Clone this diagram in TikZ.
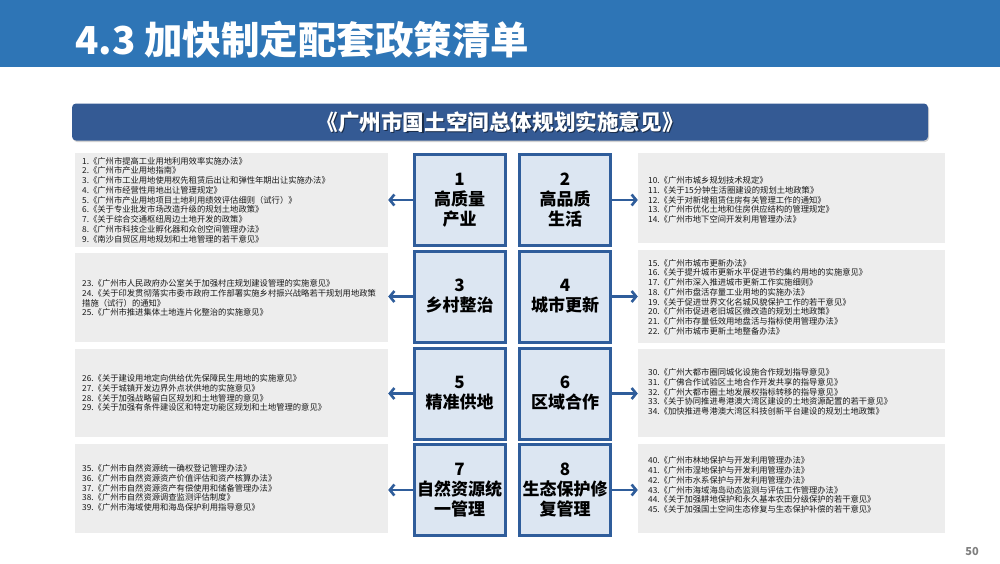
\documentclass[tikz,border=0pt]{standalone}
\usepackage{fontspec}
\setmainfont{Noto Sans CJK SC}
\usetikzlibrary{arrows.meta,shadows}
\definecolor{hdr}{RGB}{46,117,182}
\definecolor{subbar}{RGB}{52,90,148}
\definecolor{cborder}{RGB}{47,93,155}
\definecolor{cfill}{RGB}{220,230,242}
\definecolor{gfill}{RGB}{237,237,237}
\definecolor{gtext}{RGB}{25,25,25}
\definecolor{pgnum}{RGB}{127,127,127}
\begin{document}
\begin{tikzpicture}[x=1pt,y=-1pt,
 cbox/.style={draw=cborder, line width=3pt, fill=cfill, minimum width=91pt, minimum height=91pt, inner sep=0pt, align=center, font=\fontsize{17}{20}\selectfont\bfseries},
 gbox/.style={fill=gfill, inner sep=0pt},
 ltext/.style={anchor=west, align=left, inner sep=0pt, text=gtext, font=\fontsize{8.3}{9.75}\selectfont},
 arr/.style={draw=cborder, line width=2.6pt, -{Straight Barb[length=4.5pt,width=11pt]}},
]
\useasboundingbox (0,0) rectangle (1000,563);
\fill[white] (0,0) rectangle (1000,563);
% header
\fill[hdr] (0,0) rectangle (1000,67);
\node[anchor=west, text=white, font=\fontsize{38.5}{40}\selectfont\bfseries, inner sep=0pt] (title) at (75,40) {4.3 加快制定配套政策清单};
% subtitle bar
\node[fill=subbar, rounded corners=4pt, minimum width=856pt, minimum height=37pt, inner sep=0pt,
      drop shadow={opacity=0.35, shadow xshift=1pt, shadow yshift=-1.5pt}] (sub) at (500,122) {};
\node[text=black, opacity=0.5, font=\fontsize{21.6}{24}\selectfont\bfseries, inner sep=0pt] (subsh) at (501.2,123.2) {《广州市国土空间总体规划实施意见》};
\node[text=white, font=\fontsize{21.6}{24}\selectfont\bfseries, inner sep=0pt] (subt) at (500,122) {《广州市国土空间总体规划实施意见》};
% gray boxes
\node[gbox, minimum width=313pt, minimum height=94pt] (gl1) at (231.5,200) {};
\node[gbox, minimum width=313pt, minimum height=89pt] (gl2) at (231.5,297.5) {};
\node[gbox, minimum width=313pt, minimum height=88pt] (gl3) at (231.5,393) {};
\node[gbox, minimum width=313pt, minimum height=89pt] (gl4) at (231.5,488) {};
\node[gbox, minimum width=307pt, minimum height=90pt] (gr1) at (791.5,198) {};
\node[gbox, minimum width=307pt, minimum height=93pt] (gr2) at (791.5,296.5) {};
\node[gbox, minimum width=307pt, minimum height=88pt] (gr3) at (791.5,393) {};
\node[gbox, minimum width=307pt, minimum height=89pt] (gr4) at (791.5,488) {};
% texts
\node[ltext] (tl1) at (82,200) {1.《广州市提高工业用地利用效率实施办法》\\2.《广州市产业用地指南》\\3.《广州市工业用地使用权先租赁后出让和弹性年期出让实施办法》\\4.《广州市经营性用地出让管理规定》\\5.《广州市产业用地项目土地利用绩效评估细则（试行）》\\6.《关于专业批发市场改造升级的规划土地政策》\\7.《关于综合交通枢纽周边土地开发的政策》\\8.《广州市科技企业孵化器和众创空间管理办法》\\9.《南沙自贸区用地规划和土地管理的若干意见》};
\node[ltext] (tl2) at (82,298) {23.《广州市人民政府办公室关于加强村庄规划建设管理的实施意见》\\24.《关于印发贯彻落实市委市政府工作部署实施乡村振兴战略若干规划用地政策\\措施（试行）的通知》\\25.《广州市推进集体土地连片化整治的实施意见》};
\node[ltext] (tl3) at (82,393) {26.《关于建设用地定向供给优先保障民生用地的实施意见》\\27.《关于城镇开发边界外点状供地的实施意见》\\28.《关于加强战略留白区规划和土地管理的意见》\\29.《关于加强有条件建设区和特定功能区规划和土地管理的意见》};
\node[ltext] (tl4) at (82,488) {35.《广州市自然资源统一确权登记管理办法》\\36.《广州市自然资源资产价值评估和资产核算办法》\\37.《广州市自然资源资产有偿使用和储备管理办法》\\38.《广州市自然资源调查监测评估制度》\\39.《广州市海域使用和海岛保护利用指导意见》};
\node[ltext] (tr1) at (648,200) {10.《广州市城乡规划技术规定》\\11.《关于15分钟生活圈建设的规划土地政策》\\12.《关于对新增租赁住房有关管理工作的通知》\\13.《广州市优化土地和住房供应结构的管理规定》\\14.《广州市地下空间开发利用管理办法》};
\node[ltext] (tr2) at (648,297) {15.《广州市城市更新办法》\\16.《关于提升城市更新水平促进节约集约用地的实施意见》\\17.《广州市深入推进城市更新工作实施细则》\\18.《广州市盘活存量工业用地的实施办法》\\19.《关于促进世界文化名城风貌保护工作的若干意见》\\20.《广州市促进老旧城区微改造的规划土地政策》\\21.《广州市存量低效用地盘活与指标使用管理办法》\\22.《广州市城市更新土地整备办法》};
\node[ltext] (tr3) at (648,392) {30.《广州大都市圈同城化设施合作规划指导意见》\\31.《广佛合作试验区土地合作开发共享的指导意见》\\32.《广州大都市圈土地发展权指标转移的指导意见》\\33.《关于协同推进粤港澳大湾区建设的土地资源配置的若干意见》\\34.《加快推进粤港澳大湾区科技创新平台建设的规划土地政策》};
\node[ltext] (tr4) at (648,485) {40.《广州市林地保护与开发利用管理办法》\\41.《广州市湿地保护与开发利用管理办法》\\42.《广州市水系保护与开发利用管理办法》\\43.《广州市海域海岛动态监测与评估工作管理办法》\\44.《关于加强耕地保护和永久基本农田分级保护的若干意见》\\45.《关于加强国土空间生态修复与生态保护补偿的若干意见》};
% center boxes
\node[cbox] (c1) at (459.5,200) {1\\高质量\\产业};
\node[cbox] (c2) at (565,200) {2\\高品质\\生活};
\node[cbox] (c3) at (459.5,296.5) {3\\乡村整治};
\node[cbox] (c4) at (565,296.5) {4\\城市更新};
\node[cbox] (c5) at (459.5,393.5) {5\\精准供地};
\node[cbox] (c6) at (565,393.5) {6\\区域合作};
\node[cbox] (c7) at (459.5,490) {7\\自然资源统\\一管理};
\node[cbox] (c8) at (565,490) {8\\生态保护修\\复管理};
% arrows
\draw[arr] (c1.west) -- (c1.west -| gl1.east);
\draw[arr] (c3.west) -- (c3.west -| gl2.east);
\draw[arr] (c5.west) -- (c5.west -| gl3.east);
\draw[arr] (c7.west) -- (c7.west -| gl4.east);
\draw[arr] (c2.east) -- (c2.east -| gr1.west);
\draw[arr] (c4.east) -- (c4.east -| gr2.west);
\draw[arr] (c6.east) -- (c6.east -| gr3.west);
\draw[arr] (c8.east) -- (c8.east -| gr4.west);
% page number
\node[font=\fontsize{11}{13}\selectfont\bfseries, text=pgnum, inner sep=0pt] (pg) at (972,551) {50};
\end{tikzpicture}
\end{document}
